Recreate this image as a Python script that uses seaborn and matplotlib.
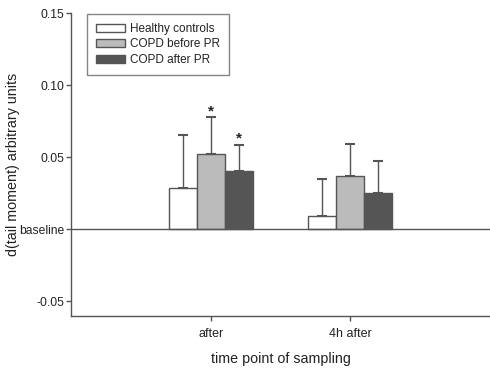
import matplotlib
matplotlib.use("Agg")
import matplotlib.pyplot as plt
import seaborn as sns
import pandas as pd

categories = ["after", "4h after"]
groups = ["Healthy controls", "COPD before PR", "COPD after PR"]
healthy = [0.0283, 0.0088]
copd_before = [0.0520, 0.0370]
copd_after = [0.0405, 0.0252]
healthy_err = [0.0370, 0.0259]
copd_before_err = [0.0256, 0.0220]
copd_after_err = [0.0178, 0.0220]
significant = [[False, False], [True, False], [True, False]]

yticks = [0.15, 0.10, 0.05, 0.0, -0.05]
yticklabels = ["0.15", "0.10", "0.05", "baseline", "-0.05"]

sns.set_style("white")
plt.rcParams["font.family"] = ["Liberation Sans", "DejaVu Sans"]

rows = []
for g, vals in zip(groups, [healthy, copd_before, copd_after]):
    for c, v in zip(categories, vals):
        rows.append({"time": c, "group": g, "value": v})
df = pd.DataFrame(rows)
errs = [healthy_err, copd_before_err, copd_after_err]

fig = plt.figure(figsize=(4.9, 3.72), dpi=100)
ax = fig.add_axes([0.145, 0.1505, 0.855, 0.8145])

colors = ["#ffffff", "#bbbbbb", "#555555"]
edge = "#555555"
sns.barplot(data=df, x="time", y="value", hue="group", order=categories,
            hue_order=groups, palette=colors, width=0.6, errorbar=None,
            edgecolor=edge, linewidth=1.0, ax=ax, saturation=1)

bar_containers = list(ax.containers)
for gi, cont in enumerate(bar_containers):
    for ci, bar in enumerate(cont.patches):
        xc = bar.get_x() + bar.get_width() / 2
        h = bar.get_height()
        e = errs[gi][ci]
        ax.errorbar([xc], [h], yerr=[[0], [e]], fmt="none", ecolor="#555555",
                    elinewidth=1.0, capsize=3.3, capthick=1.5, zorder=3)
        if significant[gi][ci]:
            ax.text(xc, h + e - 0.0005, "*", ha="center", va="bottom",
                    fontsize=11, fontweight="bold", color="#222222")

ax.axhline(0, color="#555555", linewidth=1.0, zorder=4)
ax.set_xlim(-1, 2)
ax.set_ylim(-0.0604, 0.15)
ax.set_yticks(yticks)
ax.set_yticklabels(yticklabels)
ax.tick_params(axis="both", which="both", direction="out", length=3.5,
               width=1.0, color="#555555", labelsize=8.7, pad=1.5,
               left=True, bottom=True, labelcolor="#222222")
ax.tick_params(axis="x", labelsize=9, pad=5)
for s in ["top", "right"]:
    ax.spines[s].set_visible(False)
for s in ["left", "bottom"]:
    ax.spines[s].set_color("#555555")
    ax.spines[s].set_linewidth(1.0)

ax.set_xlabel("time point of sampling", fontsize=10.3, color="#222222", labelpad=9)
ax.set_ylabel("d(tail moment) arbitrary units", fontsize=10.3, color="#222222")
ax.yaxis.set_label_coords(-0.123, 0.5)

leg = ax.legend(loc="upper left", bbox_to_anchor=(87 / 490, 1 - 14 / 372),
                bbox_transform=fig.transFigure, fancybox=False, frameon=True,
                edgecolor="#666666", fontsize=8.5, handlelength=2.45,
                handleheight=0.7, borderpad=0.75, labelspacing=0.3,
                handletextpad=0.45, borderaxespad=0)
leg.get_frame().set_linewidth(1.0)
for t in leg.get_texts():
    t.set_color("#222222")

fig.savefig("out.png", dpi=100)
